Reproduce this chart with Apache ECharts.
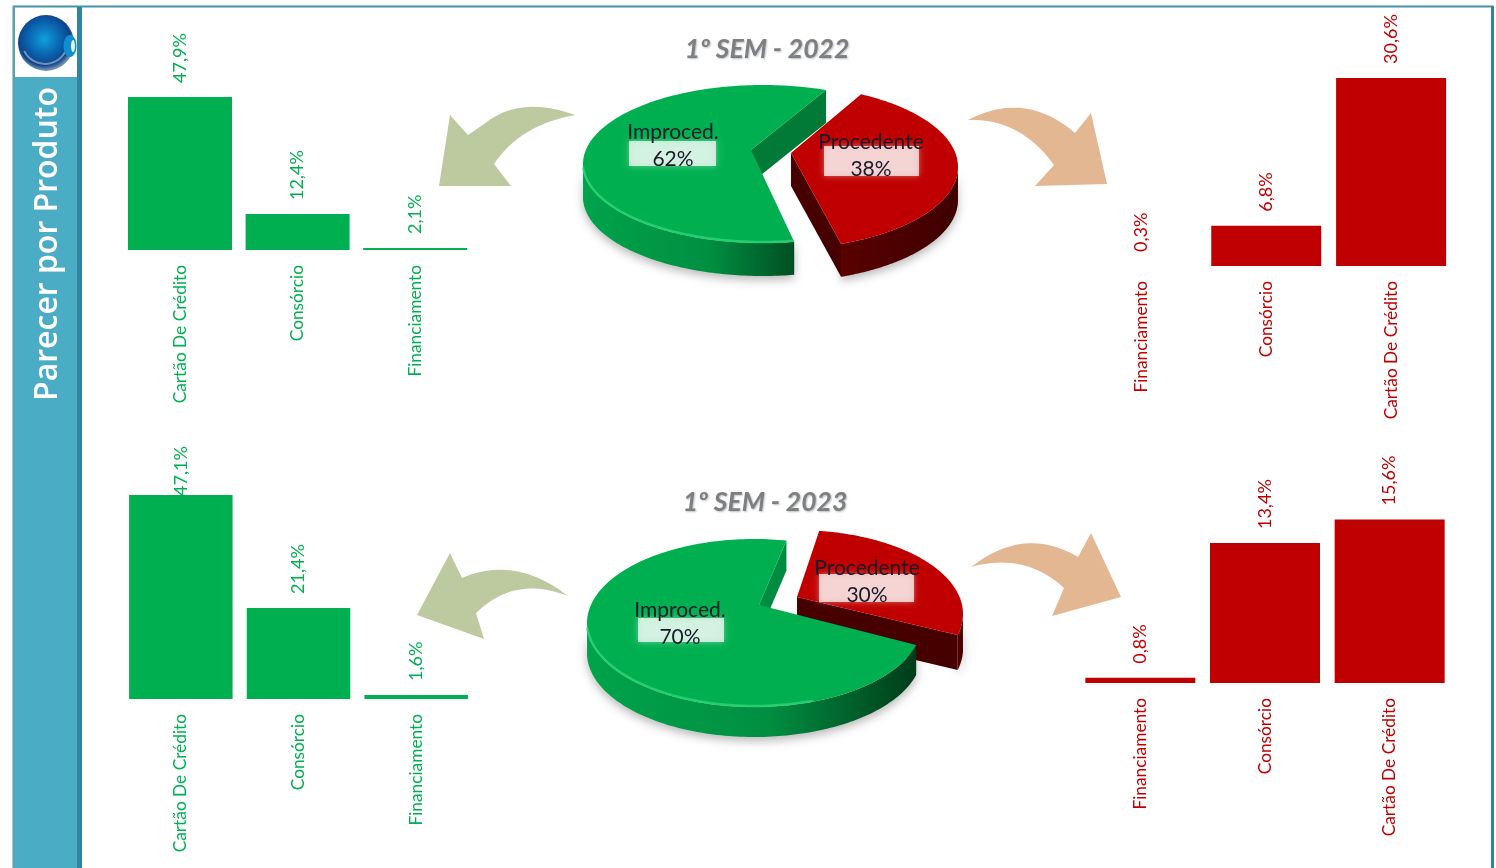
<!DOCTYPE html>
<html lang="pt">
<head>
<meta charset="utf-8">
<style>html,body{margin:0;padding:0;background:#fff;overflow:hidden}#c{width:1496px;height:868px;filter:blur(0.35px)}</style>
<script src="https://cdn.jsdelivr.net/npm/echarts@6/dist/echarts.min.js"></script>
</head>
<body>
<div id="c"></div>
<script>
// ---- data ----
const productsLeft = ['Cartão De Crédito', 'Consórcio', 'Financiamento'];
const productsRight = ['Financiamento', 'Consórcio', 'Cartão De Crédito'];
const improced2022 = [47.9, 12.4, 2.1];
const procedente2022 = [0.3, 6.8, 30.6];
const improced2023 = [47.1, 21.4, 1.6];
const procedente2023 = [0.8, 13.4, 15.6];
const parecer = ['Improced.', 'Procedente'];
const share2022 = [62, 38];
const share2023 = [70, 30];
const titles = ['1º SEM - 2022', '1º SEM - 2023'];
const sideTitle = 'Parecer por Produto';

const GREEN = '#00B050', RED = '#C00000';
const FONT = 'Lato, "Open Sans", sans-serif';
const pct = v => v.toFixed(1).replace('.', ',') + '%';

// ---- bar panels ----
const panels = [
  {cats: productsLeft, vals: improced2022, color: GREEN, left: 121.2, width: 352.8, top: 97, height: 153, min: 1.48, bw: 104},
  {cats: productsRight, vals: procedente2022, color: RED, left: 1079, width: 374.5, top: 78, height: 188, min: 0.3, bw: 110},
  {cats: productsLeft, vals: improced2023, color: GREEN, left: 122, width: 353, top: 495, height: 204, min: 0.7, bw: 103.5, firstDist: -1},
  {cats: productsRight, vals: procedente2023, color: RED, left: 1078, width: 374, top: 519.5, height: 163.5, min: 0.3, bw: 110}
];

// ---- 3D pies: one custom series per pie, slice angles come from the shares ----
const pieLayouts = [
  { shares: share2022, slices: [
    {i: 1, color: RED, wall: [['0', '#5a0000'], ['1', '#3f0000']], cx: 778, cy: 167, rx: 180, ry: 82, ax: 791, ay: 153, start: -62.5, dir: 1, scale: 0.965, depth: 33,
     box: [824, 146, 95, 30], tx: 871, ty: 156},
    {i: 0, color: GREEN, wall: [['0', '#00a34b'], ['0.6', '#008f41'], ['1', '#004f22']], cx: 763, cy: 164, rx: 180, ry: 79, ax: 751, ay: 150, start: -69.5, dir: -1, scale: 0.943, depth: 33, inner: '#007a36',
     box: [629, 141, 87, 25], tx: 673, ty: 146}
  ]},
  { shares: share2023, slices: [
    {i: 1, color: RED, wall: [['0', '#5a0000'], ['1', '#3f0000']], cx: 796, cy: 614, rx: 167, ry: 84, ax: 797, ay: 597, start: -82, dir: 1, scale: 0.894, depth: 35,
     box: [819, 574, 95, 28], tx: 867, ty: 582},
    {i: 0, color: GREEN, wall: [['0', '#00a34b'], ['0.55', '#008f41'], ['1', '#003c1a']], cx: 754.5, cy: 623, rx: 167.5, ry: 84, ax: 759, ay: 605, start: -79, dir: -1, scale: 1.055, depth: 30, inner: '#008c40',
     box: [638, 618, 86, 24], tx: 680, ty: 624}
  ]}
];

function pieSeries(pie) {
  return {
    type: 'custom', coordinateSystem: 'none', silent: true, z: 5,
    data: pie.slices.map(s => ({name: parecer[s.i], value: [pie.shares[s.i]]})),
    renderItem(params, api) {
      const s = pie.slices[params.dataIndex];
      const share = api.value(0);
      const span = share / 100 * 360 * s.scale;
      const pt = d => {
        const r = d * Math.PI / 180;
        return [s.cx + s.rx * Math.cos(r), s.cy + s.ry * Math.sin(r)];
      };
      const arc = [], front = [], rim = [];
      for (let k = 0; k <= 200; k++) {
        const d = s.start + s.dir * span * k / 200;
        const p = pt(d);
        arc.push(p);
        const sn = Math.sin(d * Math.PI / 180);
        const cs = Math.cos(d * Math.PI / 180);
        if (sn >= -0.03) front.push(p);
        if (sn >= 0.05 && cs < 0.35) rim.push([p[0], p[1] - 1]);
      }
      const first = arc[0], last = arc[arc.length - 1];
      const down = (p, d) => [p[0], p[1] + d];
      const minX = Math.min.apply(null, front.map(p => p[0]));
      const maxX = Math.max.apply(null, front.map(p => p[0]));
      const kids = [];
      // outer wall
      kids.push({type: 'polygon', shape: {points: front.concat(front.slice().reverse().map(p => down(p, s.depth)))},
        style: {fill: {type: 'linear', x: minX, y: 0, x2: maxX, y2: 0, global: true,
          colorStops: s.wall.map(w => ({offset: +w[0], color: w[1]}))},
          shadowColor: 'rgba(0,0,0,0.28)', shadowBlur: 10, shadowOffsetY: 4}});
      // the one radial wall that faces the viewer
      const apex = [s.ax, s.ay];
      const wallEdge = s.inner ? first : last;
      kids.push({type: 'polygon', shape: {points: [apex, wallEdge, down(wallEdge, s.depth), down(apex, s.depth)]},
        style: {fill: s.inner || '#470000'}});
      // top surface
      kids.push({type: 'polygon', shape: {points: [apex].concat(arc)}, style: {fill: s.color}});
      if (s.inner) kids.push({type: 'polyline', shape: {points: rim}, style: {fill: null, stroke: 'rgba(50,215,120,0.75)', lineWidth: 2.5}});
      // label
      kids.push({type: 'rect', shape: {x: s.box[0], y: s.box[1], width: s.box[2], height: s.box[3]},
        style: {fill: 'rgba(255,255,255,0.72)', shadowColor: 'rgba(255,255,255,0.55)', shadowBlur: 6}});
      kids.push({type: 'text', style: {text: parecer[s.i] + '\n' + share + '%', x: s.tx, y: s.ty, fill: '#1a1a2a',
        font: '21px ' + FONT, align: 'center', verticalAlign: 'middle', lineHeight: 27}});
      return {type: 'group', children: kids};
    }
  };
}

// ---- decoration ----
const OLIVE = '#BDCA9F', PEACH = '#E3B792', TEAL = '#4BACC6', DTEAL = '#31859C';
// tail, control, shoulder, head points..., shoulder, control
const arrows = [
  {c: OLIVE, tail: [575, 115], c1: [520, 95], head: [[484, 124], [468, 135], [450, 115], [439, 186], [511, 186], [494, 164]], c2: [520, 125]},
  {c: PEACH, tail: [968, 120], c1: [1025, 90], head: [[1075, 133], [1091, 113], [1107, 184], [1035, 186], [1054, 165]], c2: [1020, 118]},
  {c: OLIVE, tail: [568, 596], c1: [515, 555], head: [[462, 578], [450, 553], [417, 615], [484, 639], [476, 613]], c2: [515, 575]},
  {c: PEACH, tail: [971, 567], c1: [1025, 525], head: [[1078, 557], [1091, 533], [1121, 597], [1052, 616], [1064, 588]], c2: [1025, 552]}
];
function quad(a, c, b) {
  const out = [];
  for (let k = 0; k <= 24; k++) {
    const t = k / 24, u = 1 - t;
    out.push([u * u * a[0] + 2 * u * t * c[0] + t * t * b[0], u * u * a[1] + 2 * u * t * c[1] + t * t * b[1]]);
  }
  return out;
}
function arrowPoints(a) {
  const h = a.head;
  return quad(a.tail, a.c1, h[0]).concat(h.slice(1, -1), quad(h[h.length - 1], a.c2, a.tail));
}

const graphic = [
  {type: 'rect', z: -1, shape: {x: 13.5, y: 6.5, width: 1479, height: 880}, style: {fill: '#fff', stroke: DTEAL, lineWidth: 2, opacity: 0.9}},
  {type: 'rect', z: 0, shape: {x: 1491, y: 6, width: 3, height: 862}, style: {fill: DTEAL}},
  {type: 'rect', z: 0, shape: {x: 14, y: 77, width: 64, height: 791}, style: {fill: TEAL}},
  {type: 'rect', z: 0, shape: {x: 77, y: 7, width: 5, height: 861}, style: {fill: DTEAL}},
  {type: 'rect', z: 0, shape: {x: 13, y: 6, width: 2, height: 862}, style: {fill: '#5f9fb3'}},
  // logo
  {type: 'circle', z: 1, shape: {cx: 46, cy: 43, r: 28}, style: {fill: {type: 'radial', x: 0.47, y: 0.43, r: 0.55,
    colorStops: [{offset: 0, color: '#0f9fdc'}, {offset: 0.55, color: '#0a62ae'}, {offset: 0.85, color: '#0d4287'}, {offset: 1, color: '#6f8fb5'}]}}},
  {type: 'arc', z: 1, shape: {cx: 45, cy: 41, r: 23, startAngle: 0.5, endAngle: 2.7}, style: {fill: null, stroke: 'rgba(175,195,220,0.6)', lineWidth: 2}},
  {type: 'ellipse', z: 1, shape: {cx: 70, cy: 46, rx: 6.5, ry: 11}, style: {fill: '#0f8fd0'}},
  {type: 'ellipse', z: 1, shape: {cx: 73, cy: 46, rx: 2, ry: 6}, style: {fill: '#e8f1f7'}},
  {type: 'text', z: 2, x: 48, y: 244, rotation: Math.PI / 2,
    style: {text: sideTitle, fill: '#fff', font: '600 32px "Open Sans", sans-serif', align: 'center', verticalAlign: 'middle'}}
].concat(arrows.map(a => ({type: 'polygon', z: 1, shape: {points: arrowPoints(a)}, style: {fill: a.c}})));

const option = {
  animation: false,
  backgroundColor: '#fff',
  title: titles.map((t, i) => ({
    text: t, left: i ? 760 : 762, top: i ? 484 : 31, textAlign: 'center',
    textStyle: {fontFamily: FONT, fontStyle: 'italic', fontWeight: 'bold', fontSize: 26.5, color: '#7f7f7f',
      textShadowColor: 'rgba(90,110,130,0.45)', textShadowBlur: 2, textShadowOffsetX: 1, textShadowOffsetY: 1}
  })),
  graphic: graphic,
  grid: panels.map(p => ({left: p.left, top: p.top, width: p.width, height: p.height, containLabel: false})),
  xAxis: panels.map((p, i) => ({
    type: 'category', gridIndex: i, data: p.cats, axisLine: {show: false}, axisTick: {show: false}, splitLine: {show: false},
    axisLabel: {interval: 0, rotate: 90, margin: 15, color: p.color, fontFamily: FONT, fontSize: 17.3}
  })),
  yAxis: panels.map((p, i) => ({type: 'value', gridIndex: i, show: false, min: p.min, max: Math.max.apply(null, p.vals), splitLine: {show: false}})),
  series: panels.map((p, i) => ({
    type: 'bar', xAxisIndex: i, yAxisIndex: i, barWidth: p.bw, z: 3,
    itemStyle: {color: p.color},
    data: p.vals.map((v, k) => (k === 0 && p.firstDist !== undefined)
      ? {value: v, label: {distance: p.firstDist}} : v),
    label: {show: true, position: 'top', distance: 14, rotate: 90, align: 'left', verticalAlign: 'middle',
      color: p.color, fontFamily: FONT, fontSize: 18, formatter: o => pct(o.value)}
  })).concat(pieLayouts.map(pieSeries))
};

const chart = echarts.init(document.getElementById('c'), null, {renderer: 'canvas', width: 1496, height: 868});
chart.setOption(option);
</script>
</body>
</html>
